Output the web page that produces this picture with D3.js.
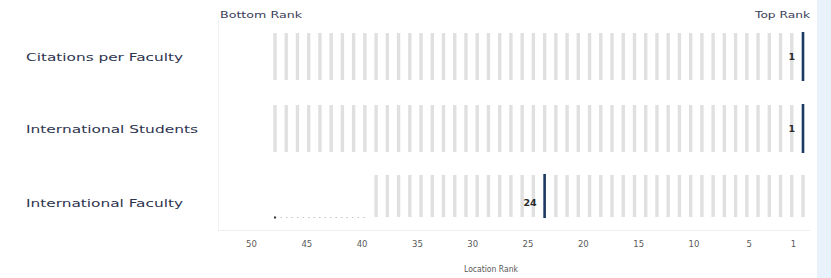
<!DOCTYPE html>
<html><head><meta charset="utf-8">
<script src="https://cdn.jsdelivr.net/npm/d3@7"></script>
<style>
html,body{margin:0;padding:0;background:#fff;}
svg{display:block;font-family:"DejaVu Sans",Verdana,sans-serif;}
</style></head>
<body>
<script>
const categories = ["Citations per Faculty", "International Students", "International Faculty"];
const locationRanks = [1, 1, 24];
const rankedCounts = [48, 48, 39];
const totalRanks = 48;
const tickValues = [50, 45, 40, 35, 30, 25, 20, 15, 10, 5, 1];

const W = 831, H = 278;
const svg = d3.select("body").append("svg").attr("width", W).attr("height", H);

svg.append("rect").attr("x", 817).attr("y", 0).attr("width", 14).attr("height", H).attr("fill", "#e9f1fb");

svg.append("line").attr("x1", 218.5).attr("x2", 218.5).attr("y1", 20).attr("y2", 230).attr("stroke", "#f2f2f2");
svg.append("line").attr("x1", 218).attr("x2", 810).attr("y1", 230.5).attr("y2", 230.5).attr("stroke", "#eeeeee");

const axisX = d3.scaleLinear().domain([50, 1]).range([251, 793]);
const barX = d3.scaleLinear().domain([totalRanks, 1]).range([275, 803]);

const rows = d3.scaleOrdinal().domain(categories).range([
  {y0: 33, y1: 80, ly: 57, w: 157},
  {y0: 105, y1: 152, ly: 129, w: 172},
  {y0: 175, y1: 217, ly: 203, w: 157}
]);

function stretch(sel, len) {
  sel.attr("textLength", len).attr("lengthAdjust", "spacingAndGlyphs");
}

categories.forEach((c, i) => {
  const r = rows(c);
  const g = svg.append("g");
  const ranksAll = d3.range(1, rankedCounts[i] + 1);
  g.selectAll("rect.bg").data(ranksAll.filter(k => k !== locationRanks[i]))
    .join("rect").attr("class", "bg")
    .attr("x", d => barX(d) - 1.7).attr("width", 3.4)
    .attr("y", r.y0).attr("height", r.y1 - r.y0)
    .attr("fill", "#e0e0e0");
  if (rankedCounts[i] < totalRanks) {
    g.append("line")
      .attr("x1", barX(totalRanks)).attr("x2", barX(rankedCounts[i] + 1) + 2)
      .attr("y1", r.y1 + 0.5).attr("y2", r.y1 + 0.5)
      .attr("stroke", "#c4c4c4").attr("stroke-width", 1.2).attr("stroke-dasharray", "1.5,4");
    g.append("rect").attr("x", barX(totalRanks) - 1).attr("y", r.y1 - 0.5).attr("width", 2).attr("height", 2).attr("fill", "#333");
  }
  g.append("rect")
    .attr("x", barX(locationRanks[i]) - 1.3).attr("width", 2.6)
    .attr("y", r.y0 - 1).attr("height", r.y1 - r.y0 + 2)
    .attr("fill", "#1d3a63");
  g.append("text")
    .attr("x", barX(locationRanks[i]) - 8).attr("y", r.ly).attr("dy", "0.35em")
    .attr("text-anchor", "end").attr("font-size", 9.5).attr("font-weight", "bold")
    .attr("fill", "#2a2a2a").text(locationRanks[i]);
  const t = svg.append("text").attr("x", 26).attr("y", r.ly).attr("dy", "0.35em")
    .attr("font-size", 10.5).attr("fill", "#2e3550").text(c);
  stretch(t, r.w);
});

const axis = d3.axisBottom(axisX).tickValues(tickValues).tickSize(0).tickPadding(0);
const ag = svg.append("g").attr("transform", "translate(0,241)").call(axis);
ag.select(".domain").remove();
ag.selectAll("text").attr("font-size", 8.5).attr("fill", "#5a5a5a").attr("font-family", "DejaVu Sans, Verdana, sans-serif");

const lr = svg.append("text").attr("x", 491).attr("y", 269).attr("dy", "0.35em").attr("text-anchor", "middle")
  .attr("font-size", 8.5).attr("fill", "#5a5a5a").text("Location Rank");
stretch(lr, 54);

const br = svg.append("text").attr("x", 220).attr("y", 15).attr("dy", "0.35em")
  .attr("font-size", 8.5).attr("fill", "#3a4058").text("Bottom Rank");
stretch(br, 82);
const tr = svg.append("text").attr("x", 810).attr("y", 15).attr("dy", "0.35em").attr("text-anchor", "end")
  .attr("font-size", 8.5).attr("fill", "#3a4058").text("Top Rank");
stretch(tr, 55);
</script>
</body></html>
